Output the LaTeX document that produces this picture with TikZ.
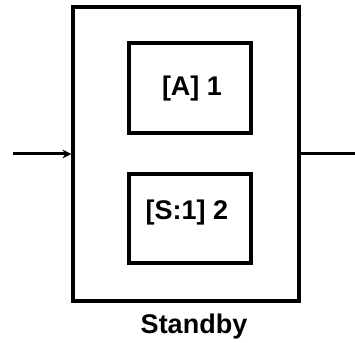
\documentclass[tikz,border=0pt]{standalone}
\usepackage{fontspec}
\setmainfont{Liberation Sans}
\usetikzlibrary{arrows.meta}
\begin{document}
\begin{tikzpicture}[x=1pt,y=1pt,
  box/.style={draw=black,line width=3.2pt,inner sep=0pt},
  lbl/.style={font=\bfseries\fontsize{27}{31}\selectfont,inner sep=0pt},
  wire/.style={line width=3pt}]
  \useasboundingbox (0,0) rectangle (355,342);
  % standby block with its two units
  \node[box,minimum width=226,minimum height=294] (outer) at (186,188) {};
  \node[box,minimum width=122,minimum height=90] (unitA) at (190,254) {};
  \node[box,minimum width=122,minimum height=89] (unitS) at (190,123.5) {};
  \node[lbl] (txtA) at (192,253) {[A] 1};
  \node[lbl] (txtS) at (187,129) {[S:1] 2};
  \node[lbl,anchor=base] (name) at (194,9) {Standby};
  % input and output
  \coordinate (in) at (13,188);
  \coordinate (out) at (355,188);
  \draw[wire,-{Stealth[length=9pt,width=9pt]}] (in) -- (outer.west);
  \draw[wire] (outer.east) -- (out);
\end{tikzpicture}
\end{document}
